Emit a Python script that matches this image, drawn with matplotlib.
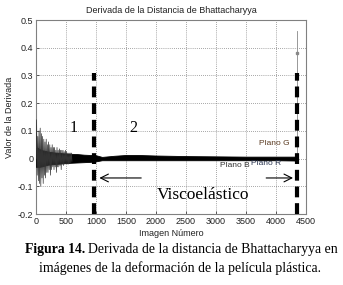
import numpy as np
import matplotlib
matplotlib.use("Agg")
import matplotlib.pyplot as plt

# ---- data ----
early_x = list(range(0, 610, 10))
early_y = [0.0, 0.14, -0.06, 0.08, -0.08, 0.10, -0.09, 0.11, -0.10, 0.09,
           -0.07, 0.08, -0.09, 0.07, -0.06, 0.06, -0.07, 0.07, -0.05, 0.05,
           -0.05, 0.06, -0.04, 0.05, -0.06, 0.04, -0.04, 0.05, -0.03, 0.04,
           -0.04, 0.04, -0.03, 0.03, -0.05, 0.04, -0.03, 0.03, -0.03, 0.035,
           -0.025, 0.03, -0.04, 0.03, -0.02, 0.03, -0.025, 0.025, -0.02, 0.03,
           -0.02, 0.025, -0.02, 0.02, -0.02, 0.02, -0.015, 0.02, -0.015, 0.02,
           -0.01]
env_x = [0, 20, 50, 100, 150, 200, 300, 400, 500, 600, 700, 800, 900, 1000,
         1100, 1300, 1500, 1700, 2000, 2500, 3000, 3500, 4000, 4300, 4350]
env_upper = [0.04, 0.04, 0.035, 0.03, 0.028, 0.025, 0.022, 0.02, 0.018, 0.017,
             0.016, 0.014, 0.013, 0.012, 0.006, 0.010, 0.013, 0.013, 0.011,
             0.009, 0.008, 0.007, 0.007, 0.007, 0.008]
env_lower = [-0.03, -0.03, -0.03, -0.028, -0.025, -0.022, -0.02, -0.018, -0.016,
             -0.015, -0.014, -0.013, -0.012, -0.010, -0.006, -0.006, -0.006,
             -0.006, -0.006, -0.006, -0.006, -0.006, -0.006, -0.007, -0.008]
boundaries = [965, 4350]
boundary_top = 0.31
spike_x = 4350
spike_top = 0.46
spike_point = 0.38
xticks = [0, 500, 1000, 1500, 2000, 2500, 3000, 3500, 4000, 4500]
yticks = [-0.2, -0.1, 0, 0.1, 0.2, 0.3, 0.4, 0.5]
ytick_labels = ["-0.2", "-0.1", "0", "0.1", "0.2", "0.3", "0.4", "0.5"]

sans = ["Liberation Sans Narrow", "Liberation Sans", "DejaVu Sans"]
serif = ["Liberation Serif", "DejaVu Serif"]

fig = plt.figure(figsize=(3.43, 2.85), dpi=100)
ax = fig.add_axes([36/343, 1-214/285, (306-36)/343, (214-20)/285])

ax.fill_between(env_x, env_lower, env_upper, color="black", lw=0.6, zorder=3)
ax.plot(early_x, early_y, color="#333333", lw=0.5, zorder=3)
ax.plot([spike_x, spike_x], [0, spike_top], color="#888888", lw=0.6, zorder=3)
ax.plot([spike_x], [spike_point], marker="s", ms=1.5, color="#888888", zorder=3)

for bx in boundaries:
    ax.plot([bx, bx], [-0.2, boundary_top], color="black", lw=3.0,
            dashes=(2.6, 1.4), zorder=4)

ax.set_xlim(0, 4500)
ax.set_ylim(-0.2, 0.5)
ax.set_xticks(xticks)
ax.set_yticks(yticks)
ax.set_yticklabels(ytick_labels)
ax.grid(True, color="#555555", linestyle=(0, (1, 2)), linewidth=0.5)
ax.tick_params(direction="in", length=2, width=0.5, labelsize=6.5,
               colors="#222222", pad=2)
for lab in ax.get_xticklabels() + ax.get_yticklabels():
    lab.set_family(sans)
for s in ax.spines.values():
    s.set_color("#808080")
    s.set_linewidth(0.8)

ax.set_title("Derivada de la Distancia de Bhattacharyya", fontsize=6.5,
             family=sans, pad=5, color="#222222")
ax.set_xlabel("Imagen Número", fontsize=6.5, family=sans, labelpad=2, color="#222222")
ax.set_ylabel("Valor de la Derivada", fontsize=6.5, family=sans, labelpad=3, color="#222222")

ax.text(630, 0.11, "1", family=serif, fontsize=11.5, ha="center", va="center", zorder=5)
ax.text(1620, 0.11, "2", family=serif, fontsize=11.5, ha="center", va="center", zorder=5)
ax.text(2780, -0.13, "Viscoelástico", family=serif, fontsize=12.5,
        ha="center", va="center", zorder=5)
ax.annotate("", xy=(1010, -0.07), xytext=(1800, -0.07),
            arrowprops=dict(arrowstyle="->", lw=0.8, color="black",
                            mutation_scale=14), zorder=5)
ax.annotate("", xy=(4330, -0.07), xytext=(3790, -0.07),
            arrowprops=dict(arrowstyle="->", lw=0.8, color="black",
                            mutation_scale=14), zorder=5)
ax.text(3970, 0.055, "Plano G", family=sans, fontsize=6, color="#5a3a20",
        ha="center", va="center", zorder=5)
ax.text(3310, -0.024, "Plano B", family=sans, fontsize=6, color="#333333",
        ha="center", va="center", zorder=5)
ax.text(3830, -0.017, "Plano R", family=sans, fontsize=6, color="#2a3550",
        ha="center", va="center", zorder=5)

t1 = fig.text(25/343, 1-250/285, "Figura 14.", family=serif, fontsize=9.9,
              fontweight="bold", ha="left", va="center")
fig.canvas.draw()
bb = t1.get_window_extent()
fig.text(bb.x1/343 + 3/343, 1-250/285,
         "Derivada de la distancia de Bhattacharyya en",
         family=serif, fontsize=9.9, ha="left", va="center")
fig.text(0.525, 1-268/285,
         "imágenes de la deformación de la película plástica.",
         family=serif, fontsize=9.9, ha="center", va="center")

fig.savefig("out.png", dpi=100)
